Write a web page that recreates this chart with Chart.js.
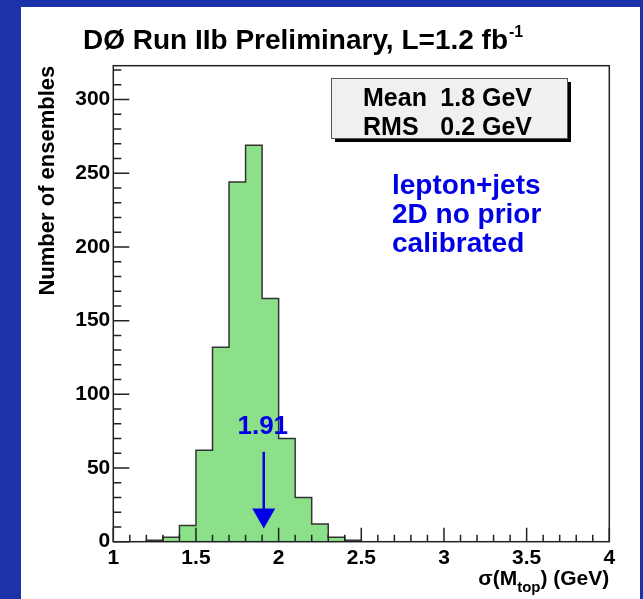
<!DOCTYPE html>
<html>
<head>
<meta charset="utf-8">
<script src="https://cdn.jsdelivr.net/npm/chart.js@4.4.1/dist/chart.umd.min.js"></script>
<style>
  html, body { margin: 0; padding: 0; }
  body { width: 643px; height: 599px; background: #1c32a8; position: relative; overflow: hidden; }
  #panel { position: absolute; left: 21px; top: 7px; width: 619px; height: 592px; background: #fff; }
  canvas { display: block; }
</style>
</head>
<body>
<div id="panel"><canvas id="hist" width="619" height="592"></canvas></div>
<script>
// histogram: lower bin edges (GeV) and entries per bin
const binLow = [1.2, 1.3, 1.4, 1.5, 1.6, 1.7, 1.8, 1.9, 2.0, 2.1, 2.2, 2.3, 2.4];
const counts = [1, 3, 11, 62, 132, 244, 269, 165, 70, 30, 12, 3, 1];
const binWidth = 0.1;

// axis ranges
const xRange = [1, 4];
const yRange = [0, 323];

// texts
const titleText = "DØ Run IIb Preliminary, L=1.2 fb";
const titleSup = "-1";
const statRows = [["Mean", "1.8 GeV"], ["RMS", "0.2 GeV"]];
const infoLines = ["lepton+jets", "2D no prior", "calibrated"];
const measured = 1.91;

const FONT = "'Liberation Sans', Arial, Helvetica, sans-serif";
const BLUE = "#0000e6";

// step outline points built from the bins
const outline = [{ x: binLow[0], y: 0 }];
binLow.forEach((lo, i) => outline.push({ x: lo, y: counts[i] }));
outline.push({ x: binLow[binLow.length - 1] + binWidth, y: 0 });

const decor = {
  id: "decor",
  afterDatasetsDraw(chart) {
    const { ctx, chartArea: a, scales: { x, y } } = chart;
    ctx.save();

    // frame
    ctx.strokeStyle = "#222";
    ctx.lineWidth = 1.5;
    ctx.strokeRect(a.left, a.top, a.right - a.left, a.bottom - a.top);

    // inward ticks, ROOT style
    ctx.beginPath();
    for (let i = 0; i <= 30; i++) {
      const px = x.getPixelForValue(xRange[0] + i * 0.1);
      const len = i % 5 === 0 ? 14 : 7;
      ctx.moveTo(px, a.bottom);
      ctx.lineTo(px, a.bottom - len);
    }
    for (let v = 0; v <= yRange[1]; v += 10) {
      const py = y.getPixelForValue(v);
      const len = v % 50 === 0 ? 16 : 8;
      ctx.moveTo(a.left, py);
      ctx.lineTo(a.left + len, py);
    }
    ctx.stroke();

    // title
    ctx.fillStyle = "#000";
    ctx.textBaseline = "alphabetic";
    ctx.textAlign = "left";
    ctx.font = "bold 28px " + FONT;
    ctx.fillText(titleText, 62, 42);
    const tw = ctx.measureText(titleText).width;
    ctx.font = "bold 16px " + FONT;
    ctx.fillText(titleSup, 62 + tw + 1, 30);

    // x axis title with subscript
    const parts = [["σ(M", 21, 0], ["top", 15, 7], [") (GeV)", 21, 0]];
    let total = 0;
    parts.forEach(p => { ctx.font = "bold " + p[1] + "px " + FONT; p.push(ctx.measureText(p[0]).width); total += p[3]; });
    let cx = a.right - total;
    parts.forEach(p => {
      ctx.font = "bold " + p[1] + "px " + FONT;
      ctx.fillText(p[0], cx, 578 + p[2]);
      cx += p[3];
    });

    // stat box with shadow
    const bx = 310, by = 71, bw = 236, bh = 60;
    ctx.fillStyle = "#000";
    ctx.fillRect(bx + 4, by + 4, bw, bh);
    ctx.fillStyle = "#f0f0f0";
    ctx.fillRect(bx, by, bw, bh);
    ctx.strokeStyle = "#555";
    ctx.lineWidth = 1;
    ctx.strokeRect(bx + 0.5, by + 0.5, bw, bh);
    ctx.fillStyle = "#000";
    ctx.font = "bold 25px " + FONT;
    ctx.textBaseline = "middle";
    statRows.forEach((r, i) => {
      const ty = by + 21 + i * 29;
      ctx.textAlign = "left";
      ctx.fillText(r[0], 342, ty);
      ctx.textAlign = "right";
      ctx.fillText(r[1], 511, ty);
    });

    // blue info text
    ctx.fillStyle = BLUE;
    ctx.textAlign = "left";
    ctx.font = "bold 28px " + FONT;
    infoLines.forEach((t, i) => ctx.fillText(t, 371, 179 + i * 29));

    // measured value and arrow
    const mx = x.getPixelForValue(measured);
    ctx.font = "bold 26px " + FONT;
    ctx.textAlign = "center";
    ctx.fillText(String(measured), mx - 1, y.getPixelForValue(78));
    const yTop = y.getPixelForValue(61), yTip = y.getPixelForValue(9);
    ctx.strokeStyle = BLUE;
    ctx.lineWidth = 2.5;
    ctx.beginPath();
    ctx.moveTo(mx, yTop);
    ctx.lineTo(mx, yTip - 12);
    ctx.stroke();
    ctx.beginPath();
    ctx.moveTo(mx - 11.5, yTip - 20);
    ctx.lineTo(mx + 11.5, yTip - 20);
    ctx.lineTo(mx, yTip);
    ctx.closePath();
    ctx.fill();

    ctx.restore();
  }
};

new Chart(document.getElementById("hist").getContext("2d"), {
  type: "line",
  data: {
    datasets: [{
      data: outline,
      stepped: "before",
      fill: "origin",
      backgroundColor: "#8ce08a",
      borderColor: "#333",
      borderWidth: 1.5,
      pointRadius: 0,
    }],
  },
  options: {
    responsive: false,
    animation: false,
    devicePixelRatio: 1,
    layout: { padding: { left: 0, top: 58.7, right: 30.7, bottom: 27.3 } },
    plugins: { legend: { display: false }, tooltip: { enabled: false } },
    scales: {
      x: {
        type: "linear",
        min: xRange[0],
        max: xRange[1],
        grid: { display: false, drawTicks: false },
        border: { display: false },
        ticks: {
          stepSize: 0.5,
          padding: 4,
          color: "#000",
          maxRotation: 0,
          font: { family: FONT, size: 21, weight: "bold" },
          callback: (v) => String(v),
        },
        afterBuildTicks: (s) => { s.ticks = s.ticks.filter(t => Math.abs(t.value * 2 - Math.round(t.value * 2)) < 1e-6); },
        afterFit: (s) => { s.height = 30; },
      },
      y: {
        min: yRange[0],
        max: yRange[1],
        grid: { display: false, drawTicks: false },
        border: { display: false },
        ticks: {
          stepSize: 50,
          padding: 3,
          color: "#000",
          font: { family: FONT, size: 21, weight: "bold" },
        },
        afterBuildTicks: (s) => { s.ticks = s.ticks.filter(t => t.value % 50 === 0); },
        afterFit: (s) => { s.width = 92.3; },
        title: {
          display: true,
          text: "Number of ensembles",
          align: "end",
          color: "#000",
          padding: { top: 14, bottom: 0 },
          font: { family: FONT, size: 22, weight: "bold" },
        },
      },
    },
  },
  plugins: [decor],
});
</script>
</body>
</html>
